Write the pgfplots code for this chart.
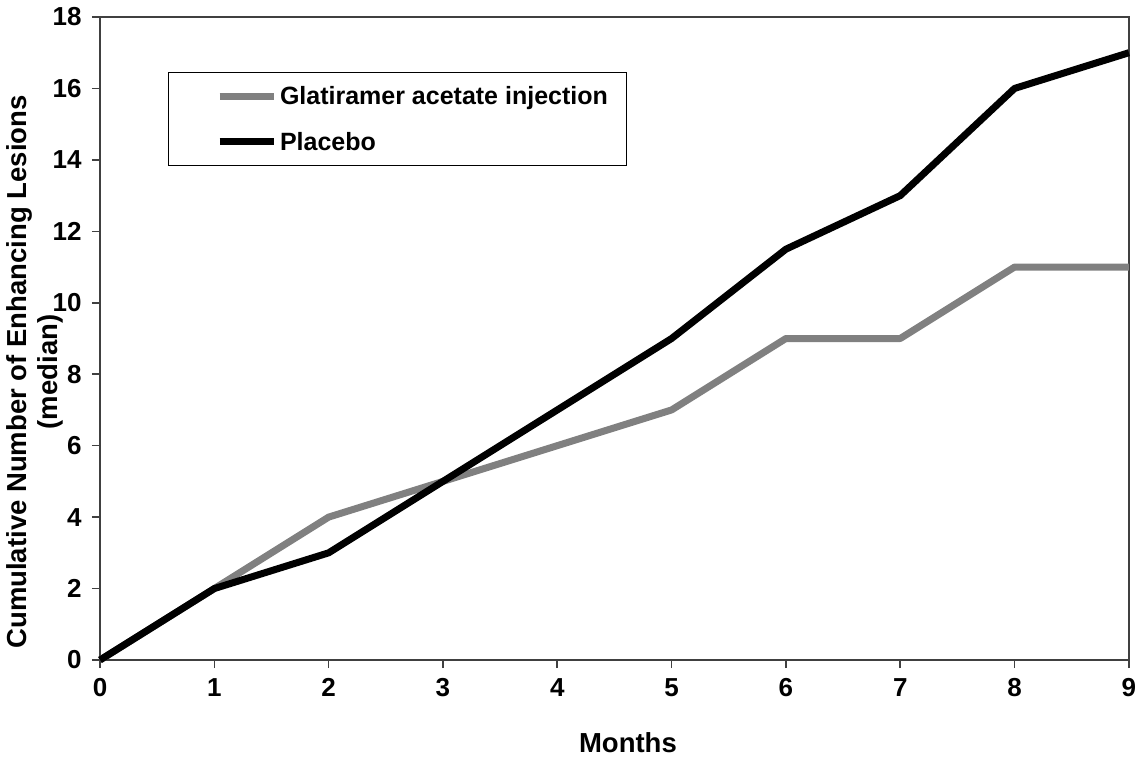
\documentclass[border=0pt]{standalone}
\usepackage{fontspec}
\setmainfont{Liberation Sans}
\usepackage{pgfplots}
\pgfplotsset{compat=1.18}
\definecolor{gline}{HTML}{808080}
\definecolor{frame}{HTML}{404040}
\begin{document}
\begin{tikzpicture}[font=\fontsize{25}{31}\selectfont\bfseries]
\useasboundingbox (-100pt,-98pt) rectangle (1039pt,660pt);
\begin{axis}[
  scale only axis,
  width=1029pt, height=643pt,
  at={(0pt,0pt)}, anchor=south west,
  xmin=0, xmax=9, ymin=0, ymax=18,
  xtick={0,...,9}, ytick={0,2,...,18},
  tick align=outside,
  xtick pos=bottom, ytick pos=left,
  major tick length=8pt,
  axis line style={frame, line width=1.6pt},
  every tick/.style={frame, line width=1.6pt},
  /pgf/number format/assume math mode=true,
  ticklabel style={font=\fontsize{26}{31}\selectfont\bfseries},
  yticklabel style={xshift=-7pt},
  xticklabel style={yshift=-7pt},
  clip=false,
  xlabel={Months},
  xlabel style={font=\fontsize{27.5}{31}\selectfont\bfseries, at={(axis description cs:0.5131,-0.1431)}, anchor=base},
  ylabel={Cumulative Number of Enhancing Lesions\\(median)},
  ylabel style={font=\fontsize{27.5}{31}\selectfont\bfseries, at={(axis description cs:-0.0636,0.4479)}, anchor=center, align=center},
  legend style={at={(axis description cs:0.0661,0.9145)}, anchor=north west,
    draw=black, line width=1pt, inner xsep=0pt, inner ysep=12pt, row sep=22pt,
    column sep=1pt, font=\fontsize{25}{31}\selectfont\bfseries},
  legend cell align=left,
  legend image code/.code={\path[draw=none] (0pt,0pt) -- (105pt,0pt); \draw[#1] (51pt,0pt) -- (105pt,0pt);},
]
\addplot[gline, line width=7pt, line join=round] coordinates {
(0,0) (1,2) (2,4) (3,5) (4,6) (5,7) (6,9) (7,9) (8,11) (9,11)};
\addlegendentry{Glatiramer acetate injection\hspace*{17pt}}
\addplot[black, line width=7pt, line join=round] coordinates {
(0,0) (1,2) (2,3) (3,5) (4,7) (5,9) (6,11.5) (7,13) (8,16) (9,17)};
\addlegendentry{Placebo}
\end{axis}
\end{tikzpicture}
\end{document}
